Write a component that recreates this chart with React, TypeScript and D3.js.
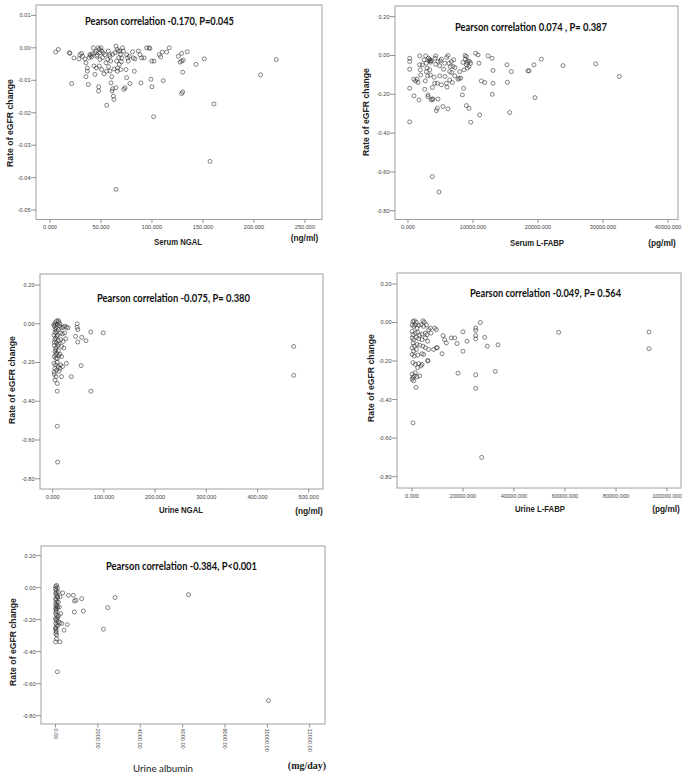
import React from 'react';
import * as d3 from 'd3';

type Pt = [number, number];

// Serum NGAL (ng/ml) vs rate of eGFR change
const serumNGAL: Pt[] = [
  [5.6,-0.0013],[8.2,-0.0005],[19.0,-0.0015],[19.6,-0.0017],[21.2,-0.0110],[23.5,-0.0031],[28.4,-0.0034],[29.4,-0.0021],
  [31.0,-0.0017],[32.0,-0.0026],[34.3,-0.0034],[35.3,-0.0046],[36.6,-0.0062],[35.3,-0.0089],[37.6,-0.0113],[36.6,-0.0072],
  [39.2,-0.0021],[39.9,-0.0024],[40.9,-0.0028],[42.5,0.0000],[44.1,-0.0015],[45.1,-0.0010],[45.8,-0.0026],[43.1,-0.0056],
  [44.1,-0.0082],[47.4,0.0000],[48.4,-0.0005],[49.0,-0.0015],[50.0,0.0000],[50.7,-0.0010],[49.0,-0.0036],[48.4,-0.0056],
  [50.7,-0.0067],[47.7,-0.0120],[47.7,-0.0133],[52.3,-0.0015],[53.9,-0.0021],[54.9,-0.0046],[55.6,-0.0072],[55.6,-0.0177],
  [57.2,-0.0010],[58.2,-0.0021],[58.8,-0.0026],[59.5,-0.0041],[58.8,-0.0072],[60.5,-0.0089],[59.8,-0.0108],[60.8,-0.0133],
  [62.1,-0.0149],[62.7,-0.0159],[61.4,-0.0126],[63.7,-0.0015],[64.7,0.0005],[66.0,-0.0005],[67.0,-0.0010],[65.4,-0.0041],
  [66.3,-0.0062],[66.0,-0.0072],[64.7,-0.0123],[64.7,-0.0436],[68.6,-0.0010],[69.3,-0.0021],[70.3,-0.0031],[68.0,-0.0051],
  [69.3,-0.0067],[71.2,0.0000],[71.9,-0.0010],[72.5,-0.0128],[73.5,-0.0123],[74.5,-0.0067],[75.2,-0.0021],[76.1,-0.0031],
  [76.8,-0.0041],[77.8,-0.0026],[75.2,-0.0092],[78.4,-0.0110],[81.0,-0.0012],[81.7,-0.0031],[82.7,-0.0072],[83.3,-0.0034],
  [86.6,-0.0010],[88.2,-0.0021],[89.9,-0.0031],[92.2,-0.0031],[89.2,-0.0108],[94.8,0.0000],[97.1,0.0000],[98.0,-0.0002],
  [99.0,-0.0097],[99.7,-0.0041],[102.0,-0.0041],[100.0,-0.0120],[101.6,-0.0212],[107.2,-0.0021],[108.5,-0.0028],[110.1,-0.0013],
  [111.1,-0.0101],[114.4,-0.0013],[117.0,0.0000],[125.8,-0.0026],[129.1,-0.0017],[127.5,-0.0044],[129.1,-0.0041],[130.7,-0.0038],
  [130.1,-0.0075],[134.6,-0.0012],[129.1,-0.0141],[130.1,-0.0136],[143.1,-0.0051],[151.3,-0.0034],[160.8,-0.0173],[156.9,-0.0350],
  [206.5,-0.0083],[221.9,-0.0036],[38.5,-0.0030],[41.5,-0.0018],[46.5,-0.0022],[51.5,-0.0030],[56.5,-0.0036],[61.5,-0.0020],
  [63.0,-0.0065],[53.0,-0.0080],[45.5,-0.0062],[70.0,-0.0043],[57.5,-0.0058],[67.5,-0.0030],
];

// Serum L-FABP (pg/ml)
const serumLFABP: Pt[] = [
  [256,-0.014],[256,-0.031],[256,-0.071],[256,-0.169],[256,-0.342],[923,-0.208],[872,-0.122],[1179,-0.131],[1385,-0.122],
  [1538,-0.139],[1795,-0.002],[1795,-0.048],[1897,-0.074],[1949,-0.100],[1692,-0.229],[2205,-0.048],[2462,-0.022],[2564,-0.174],
  [2667,-0.131],[2718,-0.002],[2820,-0.040],[2820,-0.083],[2923,-0.065],[3026,-0.105],[3077,-0.203],[3077,-0.212],[3128,-0.014],
  [3231,-0.028],[3333,-0.019],[3436,-0.026],[3487,-0.034],[3590,-0.028],[3333,-0.074],[3436,-0.100],[3590,-0.229],[3743,-0.165],
  [3743,-0.224],[3743,-0.624],[3846,-0.225],[4000,-0.112],[4102,-0.143],[4154,-0.014],[4256,-0.002],[4256,-0.045],[4359,-0.284],
  [4513,-0.272],[4513,-0.143],[4615,-0.224],[4769,-0.703],[4615,-0.031],[4872,-0.053],[4974,-0.028],[5128,-0.019],[4872,-0.105],
  [5128,-0.151],[5385,-0.263],[5487,-0.071],[5641,-0.040],[5692,-0.108],[5897,-0.143],[5949,-0.010],[6000,-0.163],[6154,0.000],
  [6308,-0.040],[6410,-0.083],[6410,-0.126],[6513,-0.057],[6154,-0.275],[6667,-0.031],[6718,-0.088],[6821,-0.139],[6923,-0.057],
  [7179,-0.105],[7026,-0.022],[7231,-0.062],[7692,-0.122],[7846,-0.117],[7949,-0.083],[8103,-0.117],[8359,-0.203],[8462,-0.036],
  [8564,-0.169],[8615,-0.074],[8769,0.000],[8821,-0.019],[8974,-0.005],[8974,-0.048],[9077,-0.036],[9128,-0.065],[9231,-0.028],
  [9385,-0.057],[9487,-0.031],[9641,-0.040],[8974,-0.258],[9385,-0.272],[9641,-0.344],[10410,0.012],[10769,0.003],[10923,-0.040],
  [11026,-0.306],[11282,-0.131],[11795,-0.139],[12308,-0.002],[12923,-0.014],[13077,-0.077],[13077,-0.143],[12974,-0.200],
  [15231,-0.048],[15282,-0.138],[15641,-0.294],[15897,-0.083],[18462,-0.079],[18615,-0.079],[19385,-0.048],[19538,-0.217],
  [20513,-0.019],[23846,-0.052],[28872,-0.043],[32513,-0.108],
];

// Urine NGAL (ng/ml)
const urineNGAL: Pt[] = [
  [4.5,0.005],[7.6,0.014],[10.8,0.017],[3.2,-0.012],[6.4,-0.021],[8.9,-0.004],[4.5,-0.030],[7.6,-0.038],[10.8,-0.030],
  [2.5,-0.059],[5.7,-0.073],[9.6,-0.059],[4.5,-0.082],[7.6,-0.099],[10.8,-0.087],[3.2,-0.112],[6.4,-0.125],[9.6,-0.112],
  [4.5,-0.143],[7.6,-0.152],[10.8,-0.139],[3.2,-0.169],[6.4,-0.178],[2.5,-0.204],[5.7,-0.212],[8.9,-0.199],[4.5,-0.230],
  [7.6,-0.239],[10.8,-0.221],[3.2,-0.261],[6.4,-0.273],[4.5,-0.291],[8.9,-0.308],[8.9,-0.348],[8.9,-0.529],[9.5,-0.714],
  [14.0,-0.012],[17.2,-0.021],[20.4,-0.018],[23.6,-0.012],[26.8,-0.018],[29.9,-0.021],[15.3,-0.047],[19.1,-0.052],[23.6,-0.047],
  [15.9,-0.082],[20.4,-0.091],[25.5,-0.077],[17.2,-0.117],[21.7,-0.125],[14.0,-0.157],[17.2,-0.169],[15.3,-0.212],[19.1,-0.221],
  [26.8,-0.204],[14.0,-0.230],[17.2,-0.273],[36.3,-0.273],[55.4,-0.216],[74.5,-0.348],[47.8,0.000],[47.8,-0.018],[49.0,-0.030],
  [44.6,-0.065],[49.0,-0.094],[56.7,-0.070],[65.0,-0.087],[74.5,-0.042],[98.7,-0.047],[12.1,0.010],[14.0,0.000],
  [2.0,-0.005],[5.0,-0.045],[3.0,-0.095],[6.0,-0.160],[2.8,-0.250],[5.5,-0.005],[8.0,-0.065],[6.0,-0.135],[9.0,-0.180],
  [12.0,-0.105],[11.5,-0.165],[12.5,-0.245],[470.7,-0.117],[470.7,-0.266],
];

// Urine L-FABP (pg/ml)
const urineLFABP: Pt[] = [
  [8900,-0.029],[9540,-0.037],[12160,-0.068],[12810,-0.089],[13460,-0.106],[15420,-0.080],[16730,-0.080],[17650,-0.109],
  [20000,-0.048],[20000,-0.149],[21570,-0.097],[24970,-0.029],[24970,-0.041],[24970,-0.068],[24970,-0.085],[26800,0.000],
  [28500,-0.077],[29550,-0.123],[33730,-0.116],[18040,-0.263],[24970,-0.272],[24970,-0.342],[32680,-0.254],[57530,-0.051],
  [92950,-0.049],[92950,-0.136],[6280,-0.200],[8500,-0.140],[9930,-0.131],[11770,-0.162],[390,-0.521],[27330,-0.700],
  [392,0.005],[915,0.009],[1700,0.002],[4314,0.009],[4837,0.002],[50,-0.012],[654,-0.020],[1307,-0.012],[1961,-0.029],
  [2615,-0.015],[3530,-0.012],[4576,-0.020],[5621,-0.012],[6536,-0.037],[7190,-0.029],[50,-0.046],[392,-0.063],[1307,-0.055],
  [2222,-0.050],[3007,-0.067],[3922,-0.060],[5229,-0.055],[5883,-0.063],[7450,-0.055],[50,-0.080],[654,-0.089],[1700,-0.077],
  [2615,-0.084],[3922,-0.089],[5229,-0.080],[6144,-0.097],[392,-0.106],[915,-0.123],[1961,-0.114],[3007,-0.118],[4314,-0.123],
  [5229,-0.131],[6536,-0.140],[9542,-0.131],[50,-0.131],[654,-0.149],[1700,-0.140],[3922,-0.162],[6144,-0.197],[50,-0.166],
  [915,-0.174],[2222,-0.169],[4576,-0.166],[392,-0.208],[1307,-0.217],[2615,-0.213],[3530,-0.225],[2222,-0.234],[3922,-0.217],
  [50,-0.268],[915,-0.277],[392,-0.285],[1307,-0.260],[1961,-0.282],[3007,-0.277],[50,-0.294],[654,-0.302],[1569,-0.337],
];

// Urine albumin (mg/day)
const urineAlbumin: Pt[] = [
  [10,0.008],[55,0.014],[5,-0.006],[24,-0.017],[87,0.000],[10,-0.038],[55,-0.048],[134,-0.027],[5,-0.069],[24,-0.079],
  [102,-0.058],[10,-0.100],[55,-0.110],[134,-0.090],[5,-0.131],[24,-0.141],[102,-0.121],[10,-0.162],[55,-0.173],[5,-0.193],
  [24,-0.204],[102,-0.187],[10,-0.224],[55,-0.235],[134,-0.214],[5,-0.256],[24,-0.266],[10,-0.287],[55,-0.297],[5,-0.339],
  [213,-0.339],[87,-0.526],[339,-0.033],[606,-0.048],[842,-0.048],[890,-0.083],[968,-0.079],[1236,-0.069],[2811,-0.062],
  [2464,-0.125],[1315,-0.146],[890,-0.152],[291,-0.224],[559,-0.231],[402,-0.266],[2260,-0.260],[213,-0.058],[181,-0.121],
  [244,-0.162],[213,-0.220],[6274,-0.044],[10053,-0.706],[40,-0.030],[70,-0.090],[30,-0.150],[60,-0.200],[15,-0.250],
  [45,-0.320],[80,-0.060],[20,-0.115],[150,-0.175],[35,-0.275],[65,-0.130],[100,-0.240],
];

const ticksSerumNGALx = [0, 50, 100, 150, 200, 250];
const ticksSerumNGALy = [0.01, 0, -0.01, -0.02, -0.03, -0.04, -0.05];
const ticksSerumLFABPx = [0, 10000, 20000, 30000, 40000];
const ticksRateY = [0.2, 0, -0.2, -0.4, -0.6, -0.8];
const ticksUrineNGALx = [0, 100, 200, 300, 400, 500];
const ticksUrineLFABPx = [0, 20000, 40000, 60000, 80000, 100000];
const ticksAlbuminX = [0, 2000, 4000, 6000, 8000, 10000, 12000];

const titles = [
  'Pearson correlation -0.170, P=0.045',
  'Pearson correlation 0.074 , P= 0.387',
  'Pearson correlation -0.075, P= 0.380',
  'Pearson correlation -0.049, P= 0.564',
  'Pearson correlation -0.384, P<0.001',
];
const xLabels = ['Serum NGAL', 'Serum L-FABP', 'Urine NGAL', 'Urine L-FABP', 'Urine albumin'];
const units = ['(ng/ml)', '(pg/ml)', '(ng/ml)', '(pg/ml)', '(mg/day)'];
const yLabel = 'Rate of eGFR change';

interface PanelCfg {
  data: Pt[];
  box: [number, number, number, number];
  xd: [number, number];
  yd: [number, number];
  xt: number[];
  xdec: number;
  yt: number[];
  ydec: number;
  title: string;
  tx: number; ty: number; tl: number;
  xl: string; xlx: number; xly: number; xlLen: number;
  unit: string; ux: number; uy: number;
  ylx: number; yly: number;
  rot: boolean;
  serifUnit?: boolean;
}

const panels: PanelCfg[] = [
  { data: serumNGAL, box: [36, 322, 5, 219.5], xd: [-13.7, 266.7], yd: [-0.0529, 0.0132], xt: ticksSerumNGALx, xdec: 3,
    yt: ticksSerumNGALy, ydec: 2, title: titles[0], tx: 159.5, ty: 24.5, tl: 149,
    xl: xLabels[0], xlx: 178, xly: 245, xlLen: 48, unit: units[0], ux: 304.5, uy: 240.5, ylx: 13, yly: 123, rot: false },
  { data: serumLFABP, box: [395, 678, 6, 219.5], xd: [-2000, 41540], yd: [-0.845, 0.255], xt: ticksSerumLFABPx, xdec: 3,
    yt: ticksRateY, ydec: 2, title: titles[1], tx: 531, ty: 30.5, tl: 152,
    xl: xLabels[1], xlx: 537, xly: 246, xlLen: 54, unit: units[1], ux: 662, uy: 246, ylx: 369, yly: 112, rot: false },
  { data: urineNGAL, box: [40, 323, 274, 489], xd: [-24.8, 527.9], yd: [-0.853, 0.257], xt: ticksUrineNGALx, xdec: 3,
    yt: ticksRateY, ydec: 2, title: titles[2], tx: 173.5, ty: 301.5, tl: 153,
    xl: xLabels[2], xlx: 181, xly: 513, xlLen: 44, unit: units[2], ux: 309, uy: 514, ylx: 15, yly: 380, rot: false },
  { data: urineLFABP, box: [397, 681, 273, 488], xd: [-5882, 105490], yd: [-0.859, 0.257], xt: ticksUrineLFABPx, xdec: 3,
    yt: ticksRateY, ydec: 2, title: titles[3], tx: 545.5, ty: 296.5, tl: 151,
    xl: xLabels[3], xlx: 540, xly: 511.5, xlLen: 50, unit: units[3], ux: 666, uy: 511.5, ylx: 374, yly: 378, rot: false },
  { data: urineAlbumin, box: [41, 325, 546, 724], xd: [-684, 12720], yd: [-0.852, 0.26], xt: ticksAlbuminX, xdec: 2,
    yt: ticksRateY, ydec: 2, title: titles[4], tx: 181.5, ty: 569.5, tl: 151,
    xl: xLabels[4], xlx: 163, xly: 771.5, xlLen: 60, unit: units[4], ux: 307, uy: 769, ylx: 16, yly: 642, rot: true, serifUnit: true },
];

const fmt = (v: number, dec: number) => {
  const s = v.toFixed(dec);
  return s.startsWith('-') && Number(s) === 0 ? s.slice(1) : s;
};

function Panel({ p }: { p: PanelCfg }) {
  const [x0, x1, y0, y1] = p.box;
  const x = d3.scaleLinear().domain(p.xd).range([x0, x1]);
  const y = d3.scaleLinear().domain(p.yd).range([y1, y0]);
  return (
    <g>
      <rect x={x0} y={y0} width={x1 - x0} height={y1 - y0} fill="#fff" stroke="#a0a0a0" strokeWidth={1} />
      {p.yt.map((t) => (
        <g key={'y' + t}>
          <line x1={x0 - 5} x2={x0} y1={y(t)} y2={y(t)} stroke="#777" strokeWidth={0.8} />
          <text x={x0 - 5.5} y={y(t)} dy="0.35em" textAnchor="end" fontSize={5.6} fill="#444"
            fontFamily="'Liberation Sans', Arial, sans-serif">{fmt(t, p.ydec)}</text>
        </g>
      ))}
      {p.xt.map((t) => (
        <g key={'x' + t}>
          <line x1={x(t)} x2={x(t)} y1={y1} y2={y1 + 3.5} stroke="#777" strokeWidth={0.8} />
          {p.rot ? (
            <text transform={`translate(${x(t)},${y1 + 4.5}) rotate(90)`} dy="0.35em" textAnchor="start" fontSize={5.6}
              fill="#444" fontFamily="'Liberation Sans', Arial, sans-serif">{fmt(t, p.xdec)}</text>
          ) : (
            <text x={x(t)} y={y1 + 9.5} textAnchor="middle" fontSize={5.6} fill="#444"
              fontFamily="'Liberation Sans', Arial, sans-serif">{fmt(t, p.xdec)}</text>
          )}
        </g>
      ))}
      {p.data.map((d, i) => (
        <circle key={i} cx={x(d[0])} cy={y(d[1])} r={2} fill="none" stroke="#333" strokeWidth={0.6} />
      ))}
      <text x={p.tx} y={p.ty} textAnchor="middle" fontSize={10.5} fontWeight="bold" fill="#111"
        fontFamily="Lato, 'Open Sans', sans-serif" textLength={p.tl} lengthAdjust="spacingAndGlyphs">{p.title}</text>
      <text transform={`translate(${p.ylx},${p.yly}) rotate(-90)`} textAnchor="middle" fontSize={8.7} fontWeight="bold"
        fill="#222" fontFamily="'Liberation Sans', Arial, sans-serif">{yLabel}</text>
      <text x={p.xlx} y={p.xly} textAnchor="middle" fontSize={p.rot ? 10 : 8.3} fontWeight={p.rot ? 'normal' : 'bold'} fill="#222"
        fontFamily={p.rot ? "Lato, 'Open Sans', sans-serif" : "'Liberation Sans', Arial, sans-serif"}
        textLength={p.xlLen} lengthAdjust="spacingAndGlyphs">{p.xl}</text>
      <text x={p.ux} y={p.uy} textAnchor="middle" fontSize={p.serifUnit ? 10 : 8.3} fontWeight="bold" fill="#222"
        fontFamily={p.serifUnit ? "'Liberation Serif', 'Times New Roman', serif" : "'Liberation Sans', Arial, sans-serif"}>{p.unit}</text>
    </g>
  );
}

export default function App() {
  return (
    <svg width={686} height={777} viewBox="0 0 686 777"
      style={{ position: 'absolute', left: 0, top: 0, background: '#fff' }}>
      <rect x={0} y={0} width={686} height={777} fill="#fff" />
      {panels.map((p, i) => <Panel key={i} p={p} />)}
    </svg>
  );
}
